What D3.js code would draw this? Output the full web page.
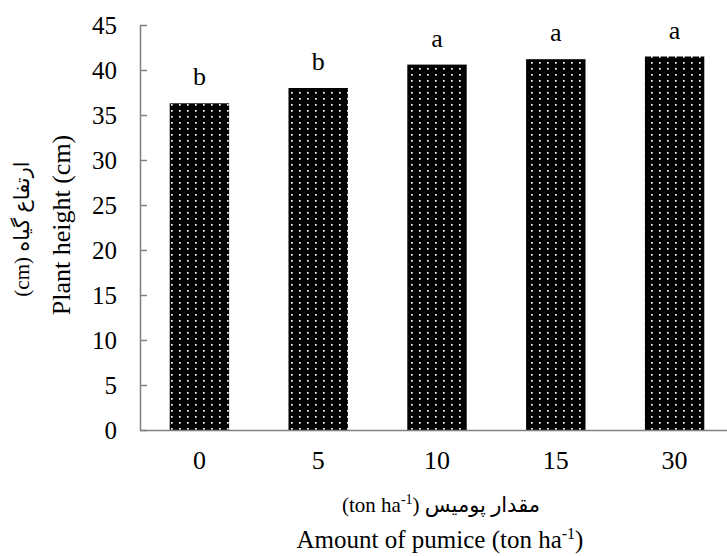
<!DOCTYPE html>
<html>
<head>
<meta charset="utf-8">
<script src="https://cdn.jsdelivr.net/npm/d3@7"></script>
<style>
  body { margin: 0; background: #fff; }
  text { font-family: "Liberation Serif", "DejaVu Serif", serif; fill: #000; }
</style>
</head>
<body>
<div id="chart"></div>
<script>
// Data
var doses = ["0", "5", "10", "15", "30"];
var plantHeight = [36.3, 38.0, 40.6, 41.2, 41.5];
var groupLetters = ["b", "b", "a", "a", "a"];
var yTicks = [0, 5, 10, 15, 20, 25, 30, 35, 40, 45];

var svgWidth = 727;
var svgHeight = 556;

var margin = { top: 25, left: 140 };
var plotBottom = 430;
var plotRight = 734;

var svg = d3.select("#chart")
  .append("svg")
  .attr("width", svgWidth)
  .attr("height", svgHeight);

// dotted fill like the original
var pat = svg.append("defs").append("pattern")
  .attr("id", "dots")
  .attr("patternUnits", "userSpaceOnUse")
  .attr("width", 8)
  .attr("height", 6);
pat.append("rect").attr("width", 8).attr("height", 6).attr("fill", "#000");
pat.append("rect").attr("x", 3).attr("y", 2).attr("width", 1.7).attr("height", 1.7).attr("fill", "#fff");

var xScale = d3.scaleBand()
  .domain(doses)
  .range([margin.left, plotRight])
  .paddingInner(0.5)
  .paddingOuter(0.25);

var yScale = d3.scaleLinear()
  .domain([0, 45])
  .range([plotBottom, margin.top]);

// Bars
svg.selectAll("rect.bar")
  .data(plantHeight)
  .enter()
  .append("rect")
  .attr("class", "bar")
  .attr("x", (d, i) => xScale(doses[i]))
  .attr("y", d => yScale(d))
  .attr("width", xScale.bandwidth())
  .attr("height", d => plotBottom - yScale(d))
  .attr("fill", "url(#dots)");

// Y axis, ticks pointing inward
var leftAxis = d3.axisLeft(yScale)
  .tickValues(yTicks)
  .tickSizeInner(-7)
  .tickSizeOuter(0)
  .tickPadding(23);

var yg = svg.append("g")
  .attr("transform", `translate(${margin.left}, 0)`)
  .call(leftAxis);
yg.selectAll("text").attr("font-size", 25).attr("fill", "#000");

// X axis
var bottomAxis = d3.axisBottom(xScale)
  .tickSize(0)
  .tickPadding(21);

var xg = svg.append("g")
  .attr("transform", `translate(0, ${plotBottom})`)
  .call(bottomAxis);
xg.selectAll("text").attr("font-size", 26).attr("fill", "#000");

svg.selectAll(".domain, .tick line")
  .attr("stroke", "#808080")
  .attr("stroke-width", 1.5);

// significance letters
svg.selectAll("text.letter")
  .data(groupLetters)
  .enter()
  .append("text")
  .attr("class", "letter")
  .attr("x", (d, i) => xScale(doses[i]) + xScale.bandwidth() / 2)
  .attr("y", (d, i) => yScale(plantHeight[i]) - 18)
  .attr("text-anchor", "middle")
  .attr("font-size", 26)
  .text(d => d);

// Y axis titles
svg.append("text")
  .attr("transform", "translate(70, 225) rotate(-90)")
  .attr("text-anchor", "middle")
  .attr("font-size", 26)
  .text("Plant height (cm)");

svg.append("text")
  .attr("transform", "translate(29, 229) rotate(-90)")
  .attr("text-anchor", "middle")
  .attr("font-size", 21)
  .style("font-family", "'Liberation Serif', 'DejaVu Sans', sans-serif")
  .text("(cm) ارتفاع گیاه");

// X axis titles
var fa = svg.append("text")
  .attr("x", 441)
  .attr("y", 512)
  .attr("text-anchor", "middle")
  .attr("font-size", 21)
  .style("font-family", "'Liberation Serif', 'DejaVu Sans', sans-serif");
fa.append("tspan").text("(ton ha");
fa.append("tspan").attr("dy", -8).attr("font-size", 14).text("-1");
fa.append("tspan").attr("dy", 8).text(") مقدار پومیس");

var en = svg.append("text")
  .attr("x", 440)
  .attr("y", 548)
  .attr("text-anchor", "middle")
  .attr("font-size", 25);
en.append("tspan").text("Amount of pumice (ton ha");
en.append("tspan").attr("dy", -9).attr("font-size", 16).text("-1");
en.append("tspan").attr("dy", 9).text(")");
</script>
</body>
</html>
